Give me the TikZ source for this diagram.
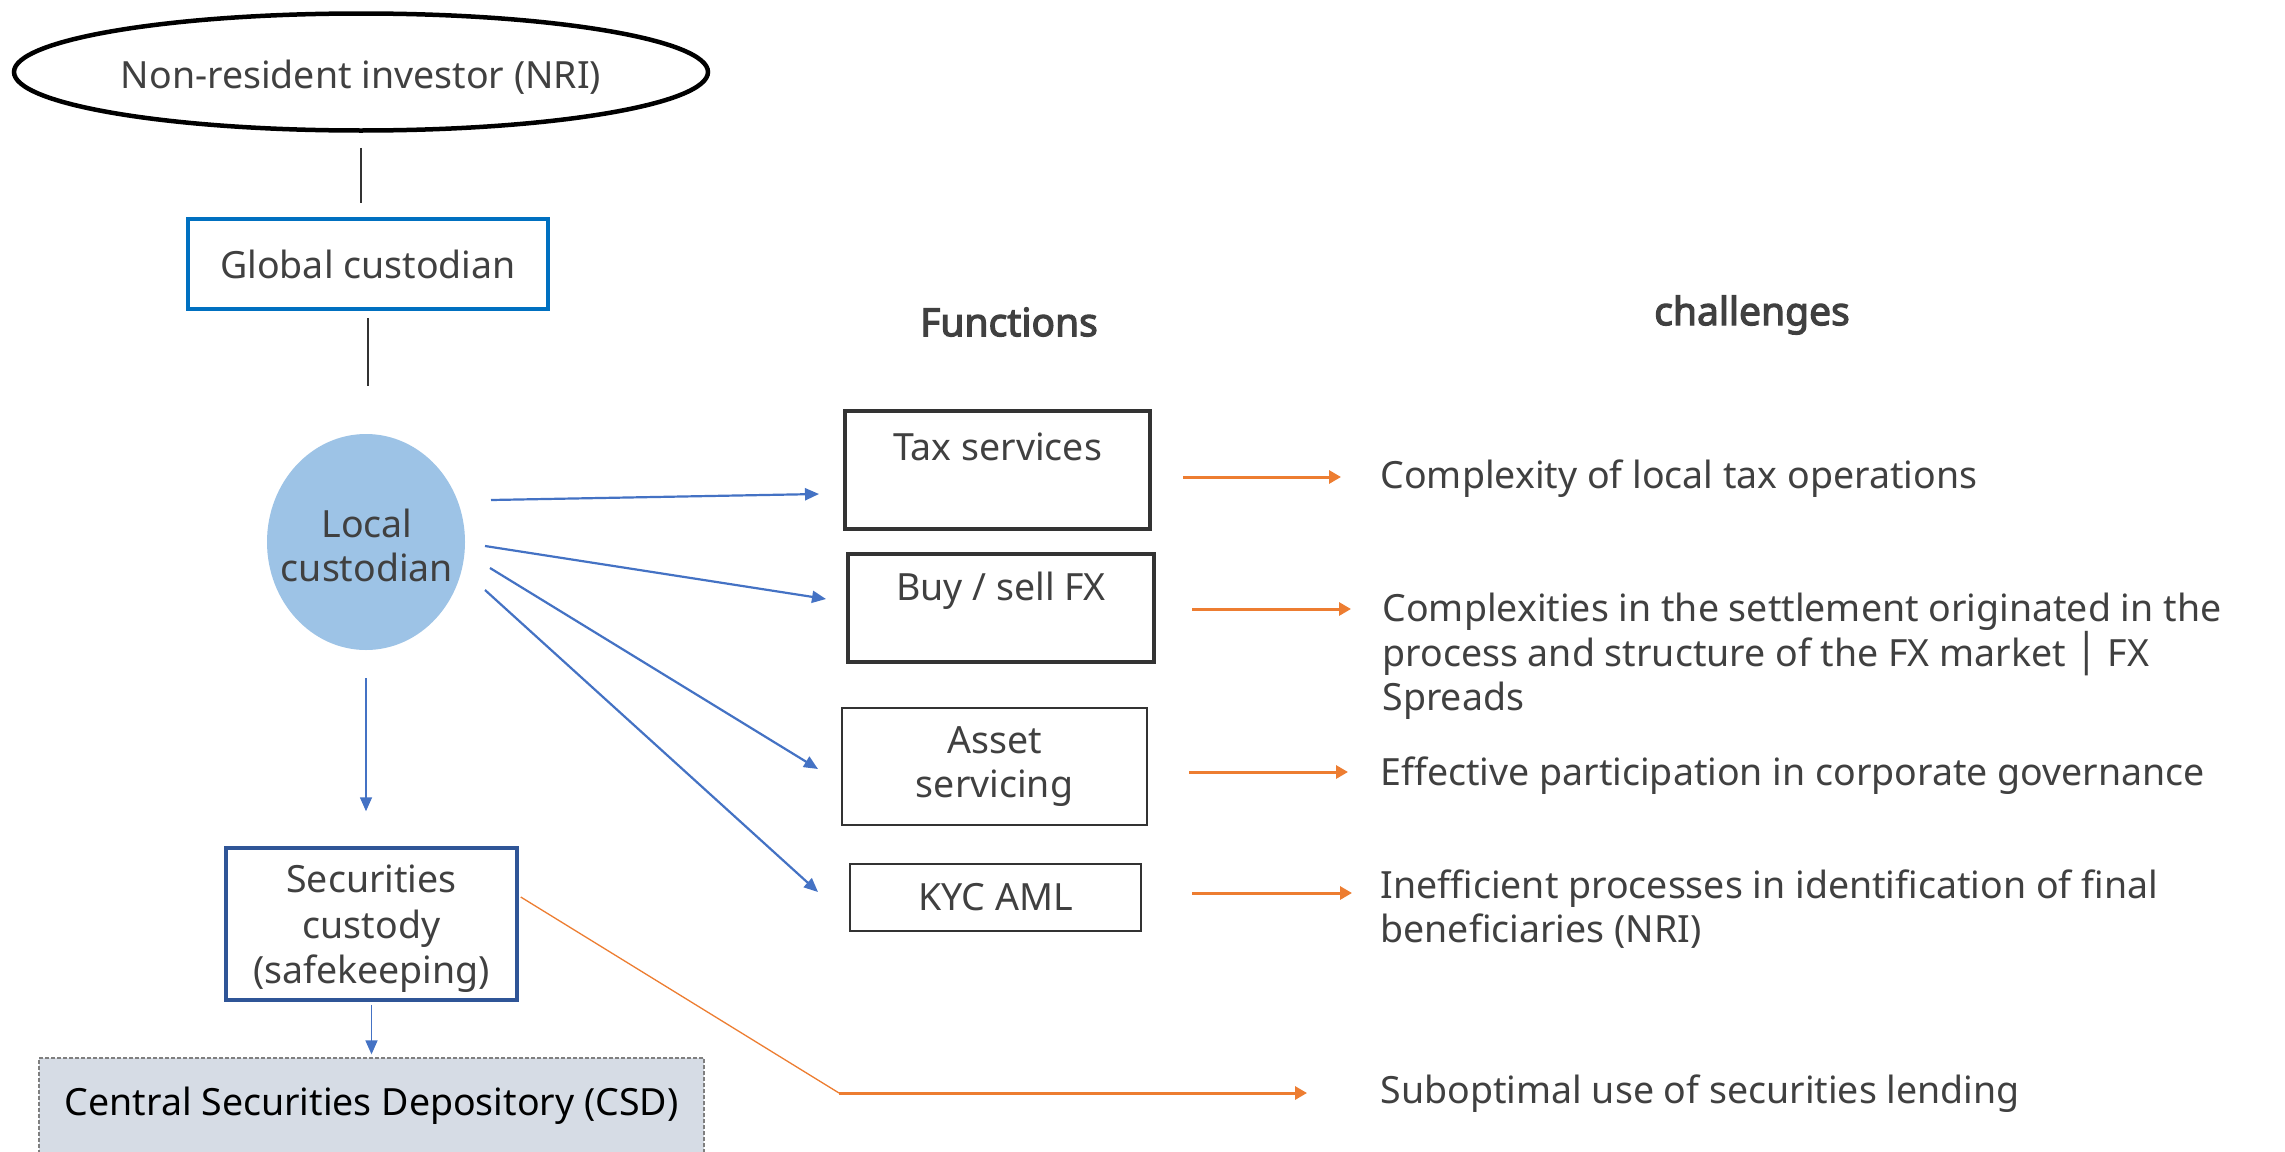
\documentclass[tikz,border=0pt]{standalone}
\usepackage{fontspec}
\setmainfont{Noto Sans}[AutoFakeBold=3]
\newfontfamily\symfont{DejaVu Sans}
\usetikzlibrary{arrows.meta,shapes.geometric,calc}

\definecolor{txt}{HTML}{404040}
\definecolor{gcblue}{HTML}{0070C0}
\definecolor{lcfill}{HTML}{9DC3E6}
\definecolor{arrblue}{HTML}{4472C4}
\definecolor{scblue}{HTML}{2F5597}
\definecolor{orng}{HTML}{ED7D31}
\definecolor{csdfill}{HTML}{D6DCE5}
\definecolor{boxline}{HTML}{333333}
\definecolor{dashgray}{HTML}{7F7F7F}

\tikzset{
  body/.style={font=\fontsize{37.5}{44}\selectfont, text=txt},
  heading/.style={font=\fontsize{39}{44}\selectfont\bfseries, text=txt},
  funcbox/.style={draw=boxline, rectangle, inner sep=0, align=center, body},
  heavybox/.style={funcbox, line width=3.5},
  lightbox/.style={funcbox, line width=1.5},
  bluearrow/.style={draw=arrblue, line width=2.2, -{Triangle[length=14, width=12]}},
  orangearrow/.style={draw=orng, line width=3, -{Triangle[length=12, width=13]}},
  link/.style={draw=boxline, line width=1.3},
  challenge/.style={body, anchor=west, align=left}
}

\begin{document}
\begin{tikzpicture}[x=1pt, y=-1pt]
  \clip (0,0) rectangle (2285,1151);
  \fill[white] (0,0) rectangle (2285,1151);

  % left column: chain of custody
  \node[ellipse, draw=black, line width=4.5, minimum width=694, minimum height=117] (nri) at (361,72) {};
  \node[body] (nritext) at (361,77) {Non-resident investor (NRI)};
  \node[rectangle, draw=gcblue, line width=4, minimum width=360, minimum height=90, body] (gc) at (368,264) {Global custodian};
  \node[ellipse, fill=lcfill, minimum width=198, minimum height=216, inner sep=0] (lc) at (366,542) {};
  \node[body, align=center] (lctext) at (367,545) {Local\\custodian};
  \node[rectangle, draw=scblue, line width=3.5, minimum width=291, minimum height=152, inner sep=0] (sc) at (371.5,924) {};
  \node[body, align=center, font=\fontsize{37.5}{45.5}\selectfont] (sctext) at (371.5,929) {Securities\\custody\\(safekeeping)};
  \node[rectangle, fill=csdfill, draw=dashgray, dash pattern=on 4 off 2, line width=1.3, minimum width=665, minimum height=120] (csd) at (371.5,1118) {};
  \node[body, text=black] (csdtext) at (371.5,1106) {Central Securities Depository (CSD)};

  \draw[link, shorten <=15, shorten >=14] (nri.south) -- (nri.south |- gc.north);
  \draw[link, shorten <=7, shorten >=48] (gc.south) -- (gc.south |- lc.north);
  \draw[bluearrow, line width=1.6, shorten <=28, shorten >=35] (lc.south) -- (lc.south |- sc.north);
  \draw[bluearrow, line width=1.6, shorten <=3, shorten >=3] (sc.south) -- (sc.south |- csd.north);

  % column headings
  \node[heading] (hfun) at (1009,322) {Functions};
  \node[heading] (hch) at (1752,315) {challenges};

  % functions
  \node[heavybox, minimum width=305, minimum height=118] (tax) at (997.5,470) {Tax services\\[-10pt]\strut};
  \node[heavybox, minimum width=306, minimum height=108] (fx) at (1001,608) {Buy / sell FX\\[-14pt]\strut};
  \node[lightbox, minimum width=305, minimum height=117] (asset) at (994.5,766.5) {Asset\\servicing};
  \node[lightbox, minimum width=291, minimum height=67] (kyc) at (995.5,897.5) {KYC AML};

  % arrows from the local custodian to its functions
  \coordinate (s1) at (491,500);  \coordinate (e1) at (819,494);
  \coordinate (s2) at (485,546);  \coordinate (e2) at (826,599);
  \coordinate (s3) at (490,568);  \coordinate (e3) at (818,769);
  \coordinate (s4) at (485,590);  \coordinate (e4) at (818,892);
  \draw[bluearrow] (s1) -- (e1);
  \draw[bluearrow] (s2) -- (e2);
  \draw[bluearrow] (s3) -- (e3);
  \draw[bluearrow] (s4) -- (e4);

  % challenges
  \node[challenge] (c1) at (1377,479) {Complexity of local tax operations};
  \node[challenge] (c2) at (1379,656) {Complexities in the settlement originated in the\\process and structure of the FX market {\symfont│} FX\\Spreads};
  \node[challenge] (c3) at (1377,776) {Effective participation in corporate governance};
  \node[challenge] (c4) at (1377,909.5) {Inefficient processes in identification of final\\beneficiaries (NRI)};
  \node[challenge] (c5) at (1377,1094) {Suboptimal use of securities lending};

  % arrows from functions to challenges
  \coordinate (o1a) at (1183,477); \coordinate (o1b) at (1341,477);
  \coordinate (o2a) at (1192,609); \coordinate (o2b) at (1351,609);
  \coordinate (o3a) at (1189,772); \coordinate (o3b) at (1348,772);
  \coordinate (o4a) at (1192,893); \coordinate (o4b) at (1352,893);
  \draw[orangearrow] (o1a) -- (o1b);
  \draw[orangearrow] (o2a) -- (o2b);
  \draw[orangearrow] (o3a) -- (o3b);
  \draw[orangearrow] (o4a) -- (o4b);

  % securities lending link
  \coordinate (bend) at (839,1093);
  \coordinate (lendend) at (1307,1093);
  \draw[draw=orng, line width=1.3] ($(sc.east)+(2,-27)$) -- (bend);
  \draw[orangearrow] (bend) -- (lendend);
\end{tikzpicture}
\end{document}
